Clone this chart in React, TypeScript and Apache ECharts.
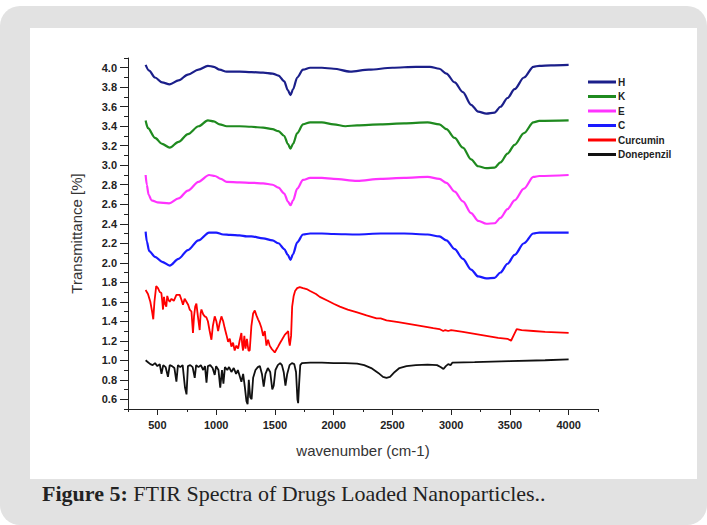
import React, { useEffect, useRef } from "react";
import * as echarts from "echarts";

const seriesNames = ["H", "K", "E", "C", "Curcumin", "Donepenzil"];
const seriesColors = ["#1b1f8a", "#1f8a1f", "#ff33ff", "#1a1aff", "#ff0000", "#111111"];

const xMajorTicks = [500, 1000, 1500, 2000, 2500, 3000, 3500, 4000];
const xMinorTicks = [250, 750, 1250, 1750, 2250, 2750, 3250, 3750, 4250];
const yMajorTicks = [0.6, 0.8, 1.0, 1.2, 1.4, 1.6, 1.8, 2.0, 2.2, 2.4, 2.6, 2.8, 3.0, 3.2, 3.4, 3.6, 3.8, 4.0];
const yMinorTicks = [0.5, 0.7, 0.9, 1.1, 1.3, 1.5, 1.7, 1.9, 2.1, 2.3, 2.5, 2.7, 2.9, 3.1, 3.3, 3.5, 3.7, 3.9, 4.1];

const hData: number[][] = [
  [400, 4.03], [430, 3.97], [480, 3.9], [540, 3.85], [605, 3.83], [680, 3.87], [760, 3.93], [850, 3.98],
  [930, 4.02], [980, 4.01], [1030, 3.98], [1090, 3.96], [1200, 3.96], [1300, 3.955], [1400, 3.95], [1480, 3.94],
  [1530, 3.92], [1580, 3.86], [1610, 3.77], [1633, 3.72], [1655, 3.78], [1690, 3.9], [1740, 3.98], [1800, 4.0],
  [1900, 4.0], [2000, 3.99], [2140, 3.96], [2300, 3.98], [2500, 4.0], [2700, 4.01], [2820, 4.01], [2900, 3.99],
  [2960, 3.94], [3030, 3.85], [3100, 3.75], [3170, 3.62], [3230, 3.55], [3300, 3.53], [3370, 3.54], [3420, 3.6],
  [3480, 3.69], [3540, 3.78], [3620, 3.9], [3700, 4.01], [3750, 4.02], [3850, 4.025], [4000, 4.03],
];

const kData: number[][] = [
  [400, 3.46], [420, 3.38], [480, 3.28], [540, 3.22], [605, 3.18], [680, 3.24], [760, 3.32], [850, 3.4],
  [930, 3.46], [980, 3.45], [1030, 3.42], [1090, 3.4], [1200, 3.4], [1300, 3.395], [1400, 3.385], [1480, 3.37],
  [1530, 3.35], [1580, 3.3], [1610, 3.22], [1633, 3.17], [1655, 3.22], [1690, 3.33], [1740, 3.42], [1800, 3.44],
  [1900, 3.44], [2000, 3.42], [2100, 3.4], [2200, 3.41], [2400, 3.42], [2600, 3.43], [2800, 3.44], [2900, 3.42],
  [2960, 3.37], [3030, 3.28], [3100, 3.18], [3170, 3.06], [3230, 2.99], [3300, 2.97], [3370, 2.975], [3420, 3.03],
  [3480, 3.12], [3540, 3.21], [3620, 3.33], [3700, 3.44], [3750, 3.455], [4000, 3.46],
];

const eData: number[][] = [
  [400, 2.9], [410, 2.8], [425, 2.7], [450, 2.64], [500, 2.62], [600, 2.61], [680, 2.66], [760, 2.74],
  [850, 2.83], [940, 2.9], [990, 2.89], [1040, 2.86], [1090, 2.83], [1200, 2.825], [1300, 2.82], [1400, 2.815],
  [1480, 2.8], [1530, 2.77], [1580, 2.71], [1610, 2.63], [1633, 2.59], [1655, 2.64], [1690, 2.76], [1740, 2.85],
  [1800, 2.87], [1900, 2.87], [2000, 2.86], [2200, 2.84], [2400, 2.86], [2600, 2.87], [2800, 2.88], [2900, 2.86],
  [2960, 2.82], [3030, 2.73], [3100, 2.63], [3170, 2.51], [3230, 2.43], [3300, 2.4], [3370, 2.405], [3420, 2.46],
  [3480, 2.55], [3540, 2.64], [3620, 2.76], [3700, 2.88], [3750, 2.89], [4000, 2.9],
];

const cData: number[][] = [
  [400, 2.32], [410, 2.22], [430, 2.12], [480, 2.06], [540, 2.01], [605, 1.97], [680, 2.04], [760, 2.13],
  [850, 2.23], [940, 2.31], [1000, 2.31], [1060, 2.29], [1120, 2.285], [1200, 2.28], [1260, 2.27], [1300, 2.27],
  [1400, 2.25], [1480, 2.23], [1530, 2.2], [1580, 2.14], [1610, 2.08], [1633, 2.03], [1655, 2.09], [1690, 2.21],
  [1740, 2.29], [1800, 2.3], [1900, 2.3], [2000, 2.295], [2200, 2.29], [2400, 2.3], [2600, 2.3], [2800, 2.29],
  [2900, 2.27], [2960, 2.23], [3030, 2.14], [3100, 2.04], [3170, 1.93], [3230, 1.86], [3300, 1.84], [3370, 1.845],
  [3420, 1.9], [3480, 1.99], [3540, 2.08], [3620, 2.2], [3700, 2.3], [3750, 2.31], [4000, 2.31],
];

const curcuminData: number[][] = [
  [400, 1.72], [420, 1.68], [440, 1.6], [455, 1.5], [465, 1.42], [475, 1.6], [490, 1.76], [505, 1.74],
  [520, 1.7], [534, 1.69], [542, 1.6], [548, 1.52], [556, 1.65], [565, 1.58], [576, 1.55], [584, 1.66],
  [594, 1.62], [605, 1.6], [620, 1.63], [640, 1.61], [662, 1.67], [690, 1.67], [705, 1.62], [718, 1.57],
  [732, 1.63], [747, 1.6], [762, 1.57], [775, 1.52], [790, 1.5], [803, 1.28], [812, 1.45], [822, 1.55],
  [832, 1.58], [845, 1.45], [860, 1.31], [868, 1.48], [875, 1.52], [890, 1.47], [903, 1.45], [917, 1.44],
  [930, 1.4], [945, 1.3], [960, 1.21], [972, 1.35], [988, 1.45], [1002, 1.4], [1017, 1.3], [1030, 1.38],
  [1045, 1.45], [1060, 1.4], [1073, 1.33], [1088, 1.26], [1102, 1.19], [1116, 1.22], [1130, 1.14], [1144, 1.18],
  [1158, 1.1], [1172, 1.15], [1187, 1.12], [1200, 1.2], [1215, 1.28], [1222, 1.16], [1229, 1.1], [1240, 1.25],
  [1250, 1.12], [1262, 1.22], [1275, 1.1], [1286, 1.1], [1300, 1.35], [1315, 1.48], [1329, 1.51], [1343, 1.46],
  [1357, 1.42], [1372, 1.38], [1386, 1.33], [1400, 1.25], [1414, 1.3], [1428, 1.15], [1442, 1.21], [1456, 1.15],
  [1471, 1.12], [1485, 1.1], [1499, 1.08], [1513, 1.11], [1527, 1.14], [1545, 1.18], [1560, 1.21], [1584, 1.26],
  [1600, 1.28], [1613, 1.3], [1620, 1.2], [1627, 1.15], [1638, 1.25], [1647, 1.55], [1660, 1.66], [1672, 1.71],
  [1690, 1.74], [1712, 1.75], [1740, 1.74], [1770, 1.73], [1800, 1.71], [1850, 1.68], [1882, 1.65], [1950, 1.61],
  [2000, 1.58], [2053, 1.55], [2120, 1.52], [2200, 1.49], [2280, 1.46], [2365, 1.43], [2400, 1.43], [2450, 1.41],
  [2550, 1.39], [2650, 1.37], [2750, 1.35], [2848, 1.33], [2900, 1.32], [2933, 1.3], [2950, 1.31], [2975, 1.3],
  [3000, 1.31], [3100, 1.29], [3200, 1.27], [3300, 1.25], [3400, 1.23], [3480, 1.22], [3510, 1.2], [3530, 1.25],
  [3558, 1.32], [3600, 1.31], [3700, 1.3], [3800, 1.29], [3900, 1.285], [4000, 1.28],
];

const donepenzilData: number[][] = [
  [400, 1.0], [420, 0.98], [440, 0.96], [460, 0.95], [480, 0.97], [500, 0.94], [520, 0.96], [535, 0.86],
  [550, 0.95], [570, 0.93], [590, 0.83], [605, 0.95], [625, 0.94], [645, 0.92], [662, 0.78], [675, 0.95],
  [695, 0.93], [715, 0.95], [735, 0.72], [748, 0.65], [760, 0.94], [780, 0.95], [800, 0.93], [818, 0.82],
  [830, 0.95], [850, 0.93], [870, 0.95], [890, 0.9], [905, 0.94], [918, 0.77], [930, 0.94], [950, 0.95],
  [970, 0.92], [988, 0.85], [1000, 0.94], [1020, 0.9], [1035, 0.72], [1050, 0.9], [1062, 0.76], [1075, 0.93],
  [1095, 0.9], [1110, 0.93], [1130, 0.88], [1150, 0.92], [1170, 0.86], [1185, 0.9], [1200, 0.84], [1215, 0.78],
  [1230, 0.86], [1245, 0.72], [1258, 0.58], [1268, 0.55], [1278, 0.8], [1290, 0.62], [1302, 0.6], [1315, 0.82],
  [1335, 0.9], [1355, 0.93], [1372, 0.94], [1390, 0.86], [1405, 0.73], [1420, 0.86], [1440, 0.92], [1460, 0.88],
  [1478, 0.7], [1490, 0.74], [1505, 0.9], [1525, 0.95], [1545, 0.97], [1560, 0.95], [1575, 0.88], [1590, 0.74],
  [1605, 0.86], [1625, 0.95], [1645, 0.97], [1665, 0.96], [1680, 0.88], [1692, 0.6], [1698, 0.56], [1706, 0.75],
  [1716, 0.95], [1730, 0.97], [1800, 0.975], [1900, 0.975], [2000, 0.97], [2100, 0.97], [2200, 0.965], [2260, 0.95],
  [2320, 0.92], [2380, 0.87], [2420, 0.83], [2450, 0.82], [2480, 0.83], [2520, 0.88], [2560, 0.92], [2620, 0.94],
  [2700, 0.95], [2800, 0.955], [2880, 0.95], [2910, 0.93], [2935, 0.91], [2955, 0.94], [2975, 0.96], [2995, 0.95],
  [3010, 0.975], [3200, 0.98], [3500, 0.99], [3800, 1.0], [4000, 1.01],
];

const seriesData = [hData, kData, eData, cData, curcuminData, donepenzilData];

const captionBold = "Figure 5:";
const captionText = " FTIR Spectra of Drugs Loaded Nanoparticles..";

export default function App() {
  const ref = useRef<HTMLDivElement>(null);
  useEffect(() => {
    if (!ref.current) return;
    const chart = echarts.init(ref.current, undefined, { renderer: "svg" });
    const labelFont = { fontFamily: "Liberation Sans, Arial, sans-serif", fontWeight: "bold" as const, fontSize: 11, color: "#222" };
    const gridBox = { left: 128, top: 58, width: 470, height: 351 };
    const option: any = {
      animation: false,
      backgroundColor: "transparent",
      graphic: [
        { type: "rect", z: -10, shape: { x: 0, y: 6, width: 707, height: 519, r: 20 }, style: { fill: "#e2e2e2" } },
        { type: "rect", z: -9, shape: { x: 30, y: 28, width: 667, height: 451 }, style: { fill: "#ffffff" } },
        {
          type: "text",
          left: 42,
          top: 482,
          style: {
            text: "{b|" + captionBold + "}{n|" + captionText + "}",
            rich: {
              b: { fontFamily: "Liberation Serif, serif", fontWeight: "bold", fontSize: 22, fill: "#222" },
              n: { fontFamily: "Liberation Serif, serif", fontSize: 22, fill: "#222" },
            },
          },
        },
      ],
      grid: [gridBox],
      legend: {
        orient: "vertical",
        left: 583,
        top: 71,
        icon: "rect",
        itemWidth: 28,
        itemHeight: 3,
        itemGap: 2.5,
        data: seriesNames,
        textStyle: { ...labelFont, fontSize: 10, lineHeight: 12, padding: [0, 0, 0, -3] },
      },
      xAxis: [
        {
          type: "value",
          min: 250,
          max: 4250,
          name: "wavenumber (cm-1)",
          nameLocation: "middle",
          nameGap: 34,
          nameTextStyle: { fontFamily: "Liberation Sans, Arial, sans-serif", fontSize: 15, color: "#333" },
          axisLine: { show: true, onZero: false, lineStyle: { color: "#222", width: 1 } },
          axisTick: { show: true, length: 6, customValues: xMajorTicks, lineStyle: { color: "#222" } },
          axisLabel: { ...labelFont, margin: 10, customValues: xMajorTicks, formatter: (v: number) => String(Math.round(v)) },
          splitLine: { show: false },
        },
        {
          type: "value",
          min: 250,
          max: 4250,
          position: "bottom",
          axisLine: { show: false },
          axisTick: { show: true, length: 3, customValues: xMinorTicks, lineStyle: { color: "#222" } },
          axisLabel: { show: false },
          splitLine: { show: false },
        },
      ],
      yAxis: [
        {
          type: "value",
          min: 0.5,
          max: 4.1,
          name: "Transmittance [%]",
          nameLocation: "middle",
          nameGap: 44,
          nameTextStyle: { fontFamily: "Liberation Sans, Arial, sans-serif", fontSize: 15, color: "#333" },
          axisLine: { show: true, onZero: false, lineStyle: { color: "#222", width: 1 } },
          axisTick: { show: true, length: 8, customValues: yMajorTicks, lineStyle: { color: "#222" } },
          axisLabel: { ...labelFont, margin: 11, customValues: yMajorTicks, formatter: (v: number) => v.toFixed(1) },
          splitLine: { show: false },
        },
        {
          type: "value",
          min: 0.5,
          max: 4.1,
          position: "left",
          axisLine: { show: false },
          axisTick: { show: true, length: 4, customValues: yMinorTicks, lineStyle: { color: "#222" } },
          axisLabel: { show: false },
          splitLine: { show: false },
        },
      ],
      series: seriesNames.map((name, i) => ({
        name,
        type: "line",
        data: seriesData[i],
        showSymbol: false,
        smooth: i < 4 ? 0.3 : false,
        smoothMonotone: i < 4 ? "x" : undefined,
        color: seriesColors[i],
        lineStyle: { color: seriesColors[i], width: i < 4 ? 2.2 : 1.8 },
        xAxisIndex: 0,
        yAxisIndex: 0,
      })),
    };
    chart.setOption(option);
    return () => chart.dispose();
  }, []);
  return (
    <div
      ref={ref}
      style={{ position: "absolute", left: 0, top: 0, width: 707, height: 525 }}
    />
  );
}
